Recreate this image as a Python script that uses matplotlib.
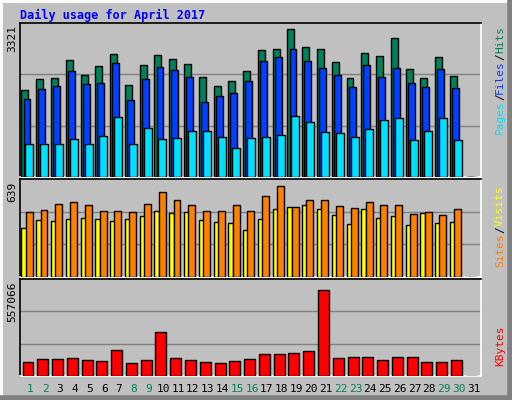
import matplotlib
matplotlib.use("Agg")
import matplotlib.pyplot as plt
from matplotlib.lines import Line2D

days = list(range(1, 32))
hits = [1881,2120,2142,2532,2207,2402,2663,1990,2424,2641,2554,2446,2163,1968,2077,2294,2749,2771,3183,2793,2771,2489,2142,2684,2619,2988,2337,2142,2597,2185,0]
files = [1686,1903,1968,2294,2012,2033,2467,1664,2120,2380,2315,2163,1621,1751,1816,2077,2511,2597,2771,2511,2359,2207,1946,2424,2163,2359,2033,1946,2337,1925,0]
pages = [710,710,710,818,710,883,1295,710,1057,818,840,992,992,861,623,840,861,905,1317,1187,970,948,861,1035,1230,1274,796,992,1274,796,0]
sites = [318,370,363,376,383,376,363,376,396,428,415,421,370,357,350,305,376,441,454,467,441,402,344,441,383,396,338,415,350,357,0]
visits = [421,434,473,486,467,428,428,421,473,557,505,467,428,428,467,428,525,596,454,505,499,460,447,486,467,467,409,421,402,441,0]
kbytes = [86278,103158,103158,108785,97531,91904,153799,75024,97531,266335,108785,97531,86278,75024,91904,103158,131292,131292,136919,148172,513914,108785,114412,114412,97531,114412,114412,86278,86278,97531,0]
weekend = [1,2,8,9,15,16,22,23,29,30]
max_hits, max_visits, max_kb = 3321, 639, 557066

W, H = 512, 400
fig = plt.figure(figsize=(W/100, H/100), dpi=100)
fig.patch.set_facecolor("#C0C0C0")
MONO = "DejaVu Sans Mono"

bg = fig.add_axes([0, 0, 1, 1]); bg.set_xlim(0, W); bg.set_ylim(H, 0); bg.axis("off")
bg.add_line(Line2D([1, 1], [0, H], color="white", lw=2))
bg.add_line(Line2D([0, W], [1, 1], color="white", lw=2))
bg.add_line(Line2D([W-2, W-2], [0, H], color="#808080", lw=4))
bg.add_line(Line2D([0, W], [H-2, H-2], color="#808080", lw=4))
bg.text(20, 15, "Daily usage for April 2017", color="#0000FF", fontsize=8.5,
        fontweight="bold", family=MONO, va="center")

def panel(y0, y1):
    ax = fig.add_axes([20/W, 1-y1/H, 461/W, (y1-y0)/H])
    ax.set_facecolor("#C0C0C0")
    ax.set_xlim(0.4, 31.6)
    for s in ["top", "left"]:
        ax.spines[s].set_color("black")
    for s in ["bottom", "right"]:
        ax.spines[s].set_color("white")
    for s in ax.spines.values():
        s.set_linewidth(1.2)
    ax.set_xticks([]); ax.set_yticks([])
    return ax

def bars(ax, vals, off, w, col):
    ax.bar([d + off for d in days], vals, width=w, align="edge", color=col,
           edgecolor="black", linewidth=1, zorder=3)

def grid(ax, top):
    for f in (1/3, 2/3):
        ax.axhline(top*f, color="#808080", lw=1, zorder=1)

a1 = panel(23, 177)
t1 = max_hits * 1.0
a1.set_ylim(0, t1); grid(a1, t1)
bars(a1, hits, -0.50, 0.47, "#00805C")
bars(a1, files, -0.36, 0.47, "#0040FF")
bars(a1, pages, -0.23, 0.54, "#00E0FF")

a2 = panel(179, 277)
a2.set_ylim(0, max_visits); grid(a2, max_visits)
bars(a2, sites, -0.50, 0.34, "#FFFF00")
bars(a2, visits, -0.21, 0.47, "#FF8000")

a3 = panel(279, 376)
t3 = max_kb * 1.045
a3.set_ylim(0, t3); grid(a3, t3)
bars(a3, kbytes, -0.43, 0.74, "#FF0000")

for y, t in [(25, "3321"), (182, "639"), (282, "557066")]:
    bg.text(12, y, t, rotation=90, fontsize=8, family=MONO, ha="center", va="top")

fig.canvas.draw()
renderer = fig.canvas.get_renderer()

def vlabel(x, ytop, parts):
    # lay out from top downward: last part at top
    ypos = ytop
    for txt, col in reversed(parts):
        t = bg.text(x, ypos, txt, rotation=90, color=col, fontsize=8, family=MONO,
                    ha="center", va="top")
        ext = t.get_window_extent(renderer)
        ypos += ext.height
vlabel(500, 26, [("Pages", "#00E0FF"), ("/", "black"), ("Files", "#0040FF"), ("/", "black"), ("Hits", "#00805C")])
vlabel(500, 186, [("Sites", "#FF8000"), ("/", "black"), ("Visits", "#FFFF00")])
vlabel(500, 326, [("KBytes", "#FF0000")])

for d in days:
    x = 20 + (d - 0.4 + 0.1) * 461 / 31.2
    bg.text(x, 389, str(d), color="#00805C" if d in weekend else "black",
            fontsize=8, family=MONO, ha="center", va="center")

fig.savefig("out.png", dpi=100, facecolor=fig.get_facecolor())
